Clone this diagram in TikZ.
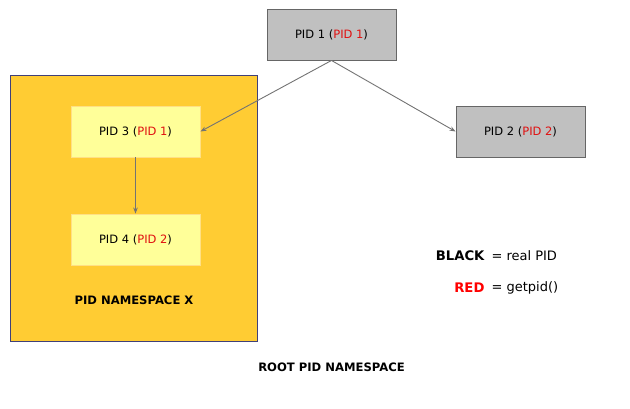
\documentclass[tikz,border=0pt]{standalone}
\usepackage{fontspec}
\setmainfont{DejaVu Sans}
\usetikzlibrary{arrows.meta}
\definecolor{pidgray}{HTML}{C0C0C0}
\definecolor{nsorange}{HTML}{FFCC33}
\definecolor{nsyellow}{HTML}{FFFF99}
\definecolor{pidred}{HTML}{E01010}
\newcommand{\pidtext}[2]{PID #1 (\textcolor{pidred}{PID #2})}
\begin{document}
\begin{tikzpicture}[x=1pt, y=-1pt,
    every node/.style={font=\fontsize{11.5}{14}\selectfont},
    rootbox/.style={draw=black!60, line width=0.9pt, fill=pidgray, minimum width=129pt, minimum height=51pt},
    innerbox/.style={draw=nsorange!60!white, line width=0.9pt, fill=nsyellow, minimum width=129pt, minimum height=51pt},
    nslabel/.style={font=\bfseries\fontsize{11.6}{14}\selectfont},
    legend/.style={font=\bfseries\fontsize{13.2}{16}\selectfont},
    link/.style={draw=black!55, line width=0.9pt, -{Stealth[length=6pt, width=4.5pt]}}]
    \useasboundingbox (0,0) rectangle (630,408);
    \fill[nsorange, draw=blue!30!black!75, line width=0.9pt] (10,75) rectangle (257,341);
    \node[rootbox] (pid1) at (331.5,34.5) {\pidtext{1}{1}};
    \node[rootbox] (pid2) at (520.5,131.5) {\pidtext{2}{2}};
    \node[innerbox] (pid3) at (135.5,131.5) {\pidtext{3}{1}};
    \node[innerbox] (pid4) at (135.5,239.5) {\pidtext{4}{2}};
    \node[nslabel] (nsx) at (134,300) {PID NAMESPACE X};
    \node[nslabel] (root) at (331.5,367) {ROOT PID NAMESPACE};
    \draw[link] (pid1.south) -- (pid3.east);
    \draw[link] (pid1.south) -- (pid2.west);
    \draw[link] (pid3.south) -- (pid4.north);
    % legend
    \node[left, legend] (black) at (488,256) {BLACK};
    \node[right, font=\fontsize{13}{16}\selectfont] (real) at (488,256) {= real PID};
    \node[left, legend, text=red] (red) at (488,288) {RED};
    \node[right, font=\fontsize{13}{16}\selectfont] (getpid) at (488,288) {= getpid()};
\end{tikzpicture}
\end{document}
